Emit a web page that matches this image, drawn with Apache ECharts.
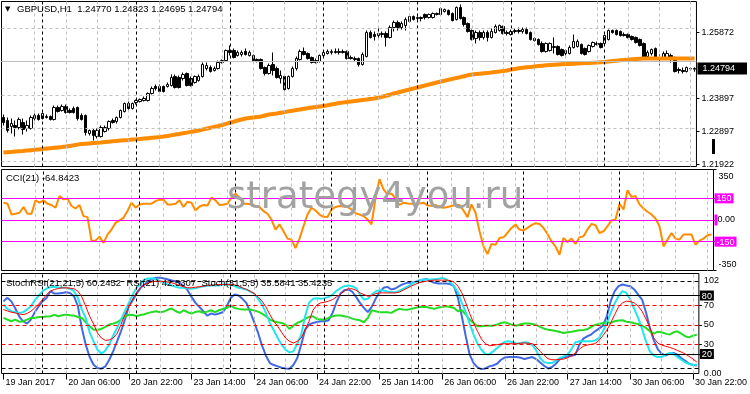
<!DOCTYPE html>
<html><head><meta charset="utf-8">
<script src="https://cdn.jsdelivr.net/npm/echarts@6/dist/echarts.min.js"></script>
<style>html,body{margin:0;padding:0;background:#fff}#c{width:750px;height:394px}</style>
</head><body><div id="c"></div>
<script>
// ---------- DATA ----------
const sessions = [['19 Jan',14,23],['20 Jan',0,23],['23 Jan',0,23],['24 Jan',0,23],['25 Jan',0,23],['26 Jan',0,23],['27 Jan',0,23],['30 Jan',0,23]];
const categories = [];
sessions.forEach(s => { for (let h = s[1]; h <= s[2]; h++) categories.push(s[0] + ' ' + String(h).padStart(2,'0') + ':00'); });

const tickLabels = ['19 Jan 2017','20 Jan 06:00','20 Jan 22:00','23 Jan 14:00','24 Jan 06:00','24 Jan 22:00','25 Jan 14:00','26 Jan 06:00','26 Jan 22:00','27 Jan 14:00','30 Jan 06:00','30 Jan 22:00'];

const titleSymbol = 'GBPUSD,H1';
const titleValues = ['1.24770','1.24823','1.24695','1.24794'];
const cciTitle = 'CCI(21) -64.8423';
const stochTitle = 'StochRSI(21,21,5) 60.2452  RSI(21) 42.5307  Stoch(31,5,5) 35.5841 35.4235';

const priceGridValues = [1.25872, 1.24885, 1.23897, 1.22897, 1.21922];
const priceTickValues = [1.25872, 1.23897, 1.22897, 1.21922];
const priceTickText = ['1.25872','1.23897','1.22897','1.21922'];

const cciLevels = [150, 0, -150];
const cciAxisValues = [350, 150, 0, -150, -350];
const cciAxisText = ['350','150','0.00','-150','-350'];

const stochLevels = [95, 80, 70, 50, 30, 20, 5];
const stochAxisValues = [102.6, 95, 80, 70, 50, 30, 20, 5, 0];
const stochAxisText = ['102','95','80','70','50','30','20','5','0.00'];

const open = [
1.23322,1.23232,1.23052,1.23082,1.23022,1.23172,1.22992,1.22992,1.23292,1.23382,
1.23292,1.23322,1.23352,1.23262,1.23622,1.23532,1.23652,1.23532,1.23592,1.23622,
1.23382,1.23382,1.22842,1.22932,1.22752,1.22752,1.22902,1.22992,1.23232,1.23202,
1.23322,1.23502,1.23742,1.23592,1.23772,1.23802,1.23832,1.23832,1.24042,1.24252,
1.24252,1.24252,1.24252,1.24282,1.24552,1.24522,1.24492,1.24642,1.24492,1.24372,
1.24432,1.24552,1.24792,1.24822,1.24732,1.24792,1.24972,1.25032,1.25332,1.25332,
1.25182,1.25212,1.25302,1.25182,1.25182,1.25062,1.25062,1.24822,1.24642,1.24912,
1.24792,1.24492,1.24552,1.24192,1.24552,1.24792,1.25062,1.25302,1.25242,1.25122,
1.25032,1.25002,1.25182,1.25242,1.25272,1.25302,1.25272,1.25302,1.25302,1.25122,
1.25092,1.25092,1.24912,1.25152,1.25872,1.25812,1.25782,1.25812,1.25842,1.25722,
1.26022,1.26172,1.26022,1.26082,1.26202,1.26352,1.26292,1.26322,1.26412,1.26322,
1.26322,1.26412,1.26412,1.26502,1.26532,1.26442,1.26262,1.26622,1.26322,1.26142,
1.25932,1.25692,1.25872,1.25722,1.25872,1.25722,1.25872,1.25932,1.26052,1.25872,
1.25812,1.25902,1.25932,1.25902,1.25962,1.25872,1.25692,1.25662,1.25542,1.25302,
1.25332,1.25422,1.25452,1.25362,1.25242,1.25242,1.25422,1.25452,1.25512,1.25392,
1.25302,1.25452,1.25542,1.25542,1.25542,1.25662,1.25932,1.25932,1.25902,1.25812,
1.25812,1.25752,1.25722,1.25662,1.25542,1.25152,1.25242,1.25392,1.25122,1.25122,
1.25122,1.25182,1.25122,1.24762,1.24732,1.24702,1.24780,1.24770
];
const close = [
1.23172,1.22932,1.23142,1.23022,1.23262,1.22962,1.23082,1.23322,1.23382,1.23262,
1.23442,1.23352,1.23262,1.23622,1.23502,1.23652,1.23472,1.23472,1.23472,1.23292,
1.23262,1.22872,1.22932,1.22782,1.22932,1.23022,1.23022,1.23202,1.23172,1.23322,
1.23532,1.23742,1.23592,1.23742,1.23832,1.23862,1.23892,1.24042,1.24192,1.24192,
1.24102,1.24102,1.24312,1.24522,1.24222,1.24222,1.24612,1.24282,1.24282,1.24552,
1.24552,1.24912,1.24882,1.24702,1.24792,1.24972,1.25032,1.25332,1.25272,1.25122,
1.25272,1.25272,1.25212,1.25272,1.25032,1.25002,1.24792,1.24642,1.24882,1.24732,
1.24522,1.24582,1.24162,1.24552,1.24792,1.25092,1.25302,1.25212,1.25092,1.24972,
1.24972,1.25182,1.25272,1.25302,1.25302,1.25272,1.25302,1.25272,1.25092,1.25092,
1.25062,1.24912,1.25212,1.25872,1.25722,1.25752,1.25842,1.25842,1.25722,1.26022,
1.26172,1.26022,1.26142,1.26262,1.26352,1.26262,1.26322,1.26292,1.26322,1.26412,
1.26442,1.26442,1.26592,1.26562,1.26412,1.26232,1.26622,1.26292,1.26112,1.25902,
1.25662,1.25872,1.25722,1.25872,1.25722,1.25902,1.26052,1.26082,1.25842,1.25842,
1.25902,1.25932,1.25902,1.25962,1.25842,1.25662,1.25632,1.25512,1.25302,1.25542,
1.25542,1.25452,1.25212,1.25182,1.25332,1.25422,1.25602,1.25602,1.25242,1.25212,
1.25482,1.25572,1.25512,1.25422,1.25782,1.25932,1.25872,1.25812,1.25782,1.25782,
1.25722,1.25662,1.25572,1.25482,1.25122,1.25272,1.25362,1.25122,1.25092,1.25242,
1.25242,1.25092,1.24702,1.24732,1.24702,1.24822,1.24792,1.24794
];
const low = [
1.23082,1.22872,1.22842,1.22752,1.22962,1.22812,1.22902,1.22962,1.23232,1.23232,
1.23262,1.23292,1.23232,1.23232,1.23472,1.23502,1.23442,1.23442,1.23442,1.23232,
1.23232,1.22782,1.22782,1.22632,1.22692,1.22722,1.22872,1.22932,1.23142,1.23142,
1.23292,1.23472,1.23532,1.23562,1.23712,1.23772,1.23802,1.23802,1.24012,1.24132,
1.24072,1.24072,1.24222,1.24252,1.24192,1.24192,1.24432,1.24252,1.24252,1.24342,
1.24402,1.24522,1.24732,1.24672,1.24702,1.24762,1.24942,1.25002,1.25182,1.25092,
1.25152,1.25152,1.25182,1.25152,1.25002,1.24972,1.24762,1.24582,1.24612,1.24582,
1.24492,1.24342,1.24132,1.24162,1.24522,1.24732,1.25032,1.25182,1.25062,1.24942,
1.24942,1.24972,1.25152,1.25212,1.25212,1.25242,1.25212,1.25242,1.25062,1.25062,
1.25002,1.24852,1.24882,1.25122,1.25692,1.25632,1.25692,1.25722,1.25452,1.25692,
1.25902,1.25932,1.25962,1.25932,1.26172,1.26232,1.26232,1.26202,1.26262,1.26292,
1.26292,1.26382,1.26382,1.26472,1.26382,1.26202,1.26232,1.26262,1.26052,1.25872,
1.25632,1.25542,1.25632,1.25662,1.25602,1.25692,1.25842,1.25902,1.25812,1.25782,
1.25782,1.25842,1.25842,1.25842,1.25812,1.25632,1.25602,1.25482,1.25272,1.25272,
1.25302,1.25242,1.25182,1.25152,1.25182,1.25212,1.25392,1.25422,1.25212,1.25182,
1.25272,1.25422,1.25482,1.25392,1.25512,1.25632,1.25842,1.25782,1.25752,1.25752,
1.25692,1.25632,1.25542,1.25452,1.25092,1.25122,1.25182,1.25092,1.24882,1.25092,
1.25092,1.24972,1.24672,1.24642,1.24642,1.24672,1.24732,1.24695
];
const high = [
1.23412,1.23322,1.23292,1.23232,1.23322,1.23292,1.23232,1.23382,1.23442,1.23442,
1.23472,1.23412,1.23382,1.23682,1.23682,1.23712,1.23712,1.23592,1.23652,1.23652,
1.23442,1.23412,1.22962,1.22992,1.22992,1.23082,1.23082,1.23232,1.23292,1.23352,
1.23562,1.23772,1.23802,1.23772,1.23862,1.23892,1.23952,1.24072,1.24252,1.24312,
1.24312,1.24282,1.24372,1.24612,1.24612,1.24582,1.24672,1.24672,1.24552,1.24582,
1.24612,1.24972,1.24972,1.24882,1.24852,1.25032,1.25062,1.25362,1.25482,1.25392,
1.25332,1.25332,1.25392,1.25332,1.25212,1.25092,1.25092,1.24852,1.24942,1.25272,
1.24852,1.24732,1.24582,1.24582,1.24852,1.25152,1.25362,1.25422,1.25272,1.25152,
1.25092,1.25212,1.25332,1.25362,1.25362,1.25392,1.25392,1.25362,1.25332,1.25182,
1.25152,1.25122,1.25272,1.25932,1.25932,1.25902,1.26052,1.25902,1.25902,1.26082,
1.26232,1.26232,1.26202,1.26322,1.26382,1.26382,1.26352,1.26352,1.26442,1.26442,
1.26472,1.26472,1.26622,1.26592,1.26562,1.26472,1.26652,1.26712,1.26352,1.26172,
1.25962,1.25932,1.25932,1.25932,1.25932,1.25992,1.26112,1.26112,1.26082,1.25932,
1.25962,1.25992,1.26022,1.26022,1.26022,1.25902,1.25722,1.25692,1.25602,1.25572,
1.25572,1.25722,1.25482,1.25392,1.25362,1.25482,1.25812,1.25662,1.25542,1.25422,
1.25512,1.25602,1.25602,1.25572,1.25812,1.25962,1.25962,1.25962,1.25932,1.25872,
1.25842,1.25782,1.25752,1.25692,1.25572,1.25332,1.25392,1.25422,1.25212,1.25302,
1.25332,1.25242,1.25152,1.24822,1.24822,1.24852,1.24822,1.24823
];
const ma = [
1.22272,1.22281,1.22290,1.22299,1.22308,1.22317,1.22329,1.22341,1.22353,1.22365,
1.22377,1.22389,1.22401,1.22413,1.22425,1.22437,1.22452,1.22470,1.22488,1.22509,
1.22527,1.22536,1.22545,1.22554,1.22563,1.22572,1.22584,1.22596,1.22608,1.22620,
1.22632,1.22641,1.22650,1.22662,1.22668,1.22677,1.22689,1.22701,1.22713,1.22725,
1.22737,1.22752,1.22770,1.22788,1.22809,1.22827,1.22848,1.22869,1.22890,1.22911,
1.22932,1.22959,1.22986,1.23013,1.23040,1.23067,1.23097,1.23130,1.23163,1.23196,
1.23232,1.23262,1.23292,1.23307,1.23322,1.23337,1.23352,1.23382,1.23412,1.23427,
1.23442,1.23463,1.23484,1.23505,1.23526,1.23544,1.23562,1.23583,1.23604,1.23622,
1.23637,1.23652,1.23667,1.23688,1.23712,1.23733,1.23757,1.23772,1.23787,1.23802,
1.23817,1.23832,1.23847,1.23862,1.23880,1.23892,1.23913,1.23943,1.23973,1.24006,
1.24042,1.24072,1.24102,1.24132,1.24162,1.24192,1.24222,1.24252,1.24282,1.24312,
1.24342,1.24372,1.24402,1.24426,1.24453,1.24480,1.24507,1.24534,1.24561,1.24588,
1.24612,1.24624,1.24636,1.24648,1.24660,1.24672,1.24687,1.24702,1.24717,1.24732,
1.24762,1.24780,1.24798,1.24816,1.24828,1.24840,1.24852,1.24864,1.24876,1.24888,
1.24897,1.24906,1.24912,1.24918,1.24924,1.24930,1.24936,1.24942,1.24948,1.24954,
1.24960,1.24966,1.24972,1.24981,1.24990,1.25002,1.25014,1.25026,1.25038,1.25050,
1.25062,1.25071,1.25080,1.25086,1.25092,1.25092,1.25092,1.25092,1.25092,1.25092,
1.25092,1.25092,1.25092,1.25092,1.25092,1.25092,1.25092,1.25092
];
const cci = [
120,113,38,43,50,90,43,43,136,120,
136,113,104,85,166,143,148,97,80,104,
27,20,-143,-143,-115,-159,-101,-66,-20,-3,
15,62,120,85,108,113,113,113,131,141,
141,108,108,113,136,90,127,120,66,94,
104,101,155,136,104,108,113,155,183,155,
113,113,108,97,90,62,43,3,-66,-31,
-78,-129,-136,-194,-129,-43,38,85,66,38,
22,20,73,90,97,94,90,73,48,38,
27,3,-31,150,283,213,178,183,150,104,
120,115,113,113,115,120,101,99,104,90,
85,90,97,104,104,66,20,108,50,-78,
-183,-236,-166,-171,-124,-120,-90,-55,-31,-66,
-73,-55,-36,-22,-27,-55,-97,-148,-183,-241,
-124,-152,-129,-166,-120,-113,-66,-27,-36,-90,
-78,-43,-3,3,113,73,206,159,166,108,
80,57,38,10,-43,-183,-136,-90,-129,-136,
-101,-101,-101,-171,-143,-129,-106,-101
];
const stochRsi = [
74,77.6,74,67,58.7,53.6,51.2,55.3,62.9,69,
74.2,77.6,84.5,82,82,82.7,83.4,82.7,79.3,69,
46.7,29.6,16.9,9,5.6,4.9,7.3,14.1,22.7,33,
43.3,55.3,69,75.2,82,87.9,91.3,94.7,97.1,98.2,
98.2,97.5,96.5,95.4,94.4,93,89.6,85.5,78.6,72.5,
68.3,63.9,59.4,61.5,60.4,61.5,62.9,69,77.6,81,
80,76.6,72.5,62.9,52.6,41.6,28.5,18.3,10.7,8.7,
7.3,5.9,5.2,4.9,8.7,15.9,29.6,45,50.2,51.9,
52.9,53.6,53.6,54.6,62.2,73.1,82,85.5,86.2,84.1,
78.6,72.5,67.3,62.9,68.3,76.6,83.4,87.9,88.9,86.2,
87.2,89.6,91.7,93,93,93.7,95.1,96.1,97.1,94.7,
93,92.3,92.3,92.3,91.7,89.6,77.6,58.7,38.2,19.3,
10.7,6.3,4.5,5.2,7.3,8.3,10,14.1,16.5,16.9,
16.9,16.9,16.2,14.8,15.9,16.9,14.8,11.4,8,5.2,
6.6,10,14.8,16.5,17.6,18.3,19.3,29.6,35.8,38.2,
39.9,43.3,46,49.1,58.7,74.2,84.5,89.6,91.3,90.3,
89.6,86.2,81,75.9,62.9,46.7,34,25.1,20.3,18.3,
20.3,21,19.3,15.9,13.1,10,8.7,8.3
];
const stochMain = [
70.7,66.3,63.9,62.9,62.2,62.9,65.6,69,75.2,80,
84.5,87.2,88.6,88.9,88.2,87.9,87.9,86.9,84.5,77.6,
65.6,57,42.3,33,24.4,20.3,23.7,29.6,38.8,46.7,
55.3,63.9,72.5,81,87.9,92.3,96.5,97.5,97.8,96.5,
94.7,93,91.3,90.3,88.9,87.9,87.9,87.5,86.9,87.5,
88.6,89.6,89.9,90.3,90.3,90.3,91.3,91.3,91.3,89.6,
87.9,87.2,86.2,84.1,82,76.6,70.7,62.2,51.9,44.3,
36.4,29.6,24.4,21.7,22.7,30.6,39.9,58.7,72.5,76.6,
77.3,76.6,77.3,78.6,81,84.8,87.5,89.6,90.3,89.6,
87.5,81,75.9,76.6,81,84.1,85.5,85.1,84.1,83.4,
83.4,84.8,86.9,88.9,91.3,93.7,95.1,96.1,96.5,96.5,
96.8,97.1,98.2,96.5,93.7,89.6,83.4,72.5,62.9,51.2,
39.9,30.6,24.4,20,19.6,22.7,26.1,29.6,32.7,33,
32,30.6,31.3,32,31.3,29.2,23.7,15.9,11.7,10.7,
10.7,13.1,15.9,17.6,19.3,25.1,32,33,33,33,
33,34,36.4,43.3,51.9,62.2,71.8,79.3,84.5,82.7,
75.9,66.3,57,45.7,33,22.7,18.3,16.9,16.9,19.3,
21,20.3,16.9,14.1,11.4,9.7,9,9
];
const stochSignal = [
65.6,64.2,62.9,62.2,61.1,60.4,61.5,63.9,67.3,71.4,
75.9,81,84.5,86.2,87.2,87.9,87.9,87.5,86.9,84.5,
78.6,69,58.7,50.8,41.6,36.4,34,34.4,36.4,40.9,
50.2,60.4,68.3,76.6,83.4,87.9,91.3,93,94,94.7,
94.7,94.4,93.7,93,91.7,90.3,88.9,87.9,87.9,88.6,
88.9,89.6,90.3,90.6,91,91.3,91.3,91.3,91.3,91,
89.6,87.9,86.2,84.5,82,78.6,74.2,68.3,60.4,53.6,
48.4,42.3,36.4,33,31.3,33,36.4,45,53.6,64.9,
70.4,72.5,73.1,74.2,75.9,78.6,81.4,84.5,86.9,86.9,
85.5,82.7,81,79.3,80,82,82.7,82.7,82.7,82.7,
82.7,83.4,85.5,87.5,89.6,91.3,93,94,94.7,95.4,
95.8,95.8,95.8,95.8,95.4,93.7,89.6,82.7,72.5,61.5,
51.9,43.3,35.4,30.6,28.5,28.9,29.6,30.3,30.6,30.6,
30.6,30.6,31,31.3,31,30.6,27.2,22.7,18.6,15.2,
14.1,14.1,14.5,14.8,16.2,18.3,21,25.1,27.9,29.2,
29.9,30.6,34,38.8,44.3,51.9,60.4,68.3,72.5,74.2,
73.8,72.5,69,63.9,56,46.7,36.4,31.3,29.2,27.9,
26.8,25.5,23.7,22,20,17.6,14.8,11.7
];
const rsi = [
57,55.3,53.6,55.3,53.2,53.6,55.3,57,57,58,
58,58.4,58.7,60.1,58.7,59.8,60.4,59.8,59.4,58,
57,52.6,48.4,45,45,45.7,47.8,50.2,51.2,52.6,
55.3,58,60.4,60.1,58.7,60.1,60.8,62.2,63.2,63.9,
62.9,63.5,65.6,66.6,63.9,62.2,64.9,62.9,61.5,63.2,
63.9,62.2,63.5,64.9,62.9,64.9,66.3,67.3,69.7,67.3,
66.3,65.6,65.6,65.6,64.6,63.5,61.5,58.7,55.3,53.6,
52.6,51.9,50.2,45.7,49.1,51.9,53.6,56,58,58.7,
56,55.3,55.3,57,58.7,59.4,59.4,58.7,58,56.3,
55.3,54.6,52.6,57,64.9,63.9,62.9,62.9,62.9,62.2,
64.6,66.3,65.6,65.3,66.3,67.3,68.3,68.3,68.3,67.3,
66.3,67.7,68.3,69,68.3,67.3,63.9,64.9,60.4,55.3,
51.9,48.4,48.4,49.1,49.1,49.1,50.2,51.9,52.6,51.2,
49.8,49.1,50.5,51.2,51.2,50.8,49.8,47.8,46,45,
44.3,43.6,42.6,41.6,42.3,42.9,43.6,44.3,44.6,45.3,
47.8,49.8,50.8,51.9,52.6,51.9,53.6,54.3,54.6,53.2,
52.6,51.5,50.8,49.1,46.7,43.3,40.9,42.9,42.3,40.9,
39.9,42.3,43.3,40.9,38.2,37.1,38.8,39.9
];

// ---------- CHART ----------
const FONT = "'Liberation Sans', Arial, sans-serif";
const chart = echarts.init(document.getElementById('c'), null, {renderer: 'canvas', width: 750, height: 394});
const candles = open.map((o, i) => [o, close[i], low[i], high[i]]);
const currentPrice = close[close.length - 1];
const near = (a, b) => Math.abs(a - b) < 1e-7;

const vLines = [];
categories.forEach((c, i) => {
  if (i > 0 && i % 8 === 0) vLines.push({xAxis: c, lineStyle: {color: '#c0c0c0', type: [3, 3], width: 1}});
  if (i > 0 && c.slice(-5) === '00:00') vLines.push({xAxis: c, lineStyle: {color: '#000', type: [3, 3], width: 1}});
});
const mk = data => ({silent: true, symbol: ['none', 'none'], label: {show: false}, emphasis: {disabled: true}, animation: false, data});

const base = {fontSize: 9, fontFamily: FONT, color: '#000'};
const rich = {
  p: Object.assign({}, base, {padding: [0, 0, 0, 4]}),
  top: Object.assign({}, base, {padding: [14, 0, 0, 4]}),
  bot: Object.assign({}, base, {padding: [0, 0, 12, 4]}),
  box: Object.assign({}, base, {color: '#fff', backgroundColor: '#000', padding: [1, 2, 0, 2]}),
  mag: Object.assign({}, base, {color: '#fff', backgroundColor: '#ff00ff', padding: [1, 2, 0, 2]}),
  mz: {width: 3, height: 11, backgroundColor: '#ff00ff'},
  z: Object.assign({}, base, {padding: [0, 0, 0, 0]}),
  cur: Object.assign({}, base, {color: '#fff', backgroundColor: '#000', padding: [2, 12, 1, 5]})
};

const grids = [
  {left: 1.5, top: 1.5, width: 712, height: 165},
  {left: 1.5, top: 169.5, width: 712, height: 101},
  {left: 1.5, top: 273.5, width: 712, height: 100}
].map(g => Object.assign(g, {show: true, borderColor: '#000', borderWidth: 1, backgroundColor: '#fff'}));

const xAxes = [0, 1, 2].map(k => ({
  type: 'category', gridIndex: k, data: categories, boundaryGap: true,
  axisLine: {show: false}, splitLine: {show: false}, axisTick: {show: false}, axisLabel: {show: false}
}));
xAxes[2].axisTick = {show: true, interval: i => i % 16 === 0, alignWithLabel: true, length: 6, lineStyle: {color: '#000'}};
xAxes[2].axisLabel = {show: true, interval: i => i % 16 === 0, formatter: (v, i) => tickLabels[Math.round(i / 16)],
  align: 'left', margin: 5, fontSize: 9, fontFamily: FONT, color: '#000', padding: [0, 0, 0, 2]};

const yCommon = {type: 'value', position: 'right', splitLine: {show: false}, axisLine: {show: false}};
const yAxes = [
  Object.assign({}, yCommon, {gridIndex: 0, min: 1.21852, max: 1.26802,
    axisTick: {show: true, customValues: priceTickValues, length: 3, lineStyle: {color: '#000'}},
    axisLabel: {customValues: priceTickValues.concat([currentPrice]), margin: 1, rich, showMinLabel: true, showMaxLabel: true,
      formatter: v => {
        if (near(v, currentPrice)) return '{cur|' + currentPrice.toFixed(5) + '}';
        const k = priceTickValues.findIndex(t => near(t, v));
        return '{p|' + priceTickText[k] + '}';
      }}}),
  Object.assign({}, yCommon, {gridIndex: 1, min: -350, max: 350,
    axisTick: {show: true, customValues: cciAxisValues, length: 3, lineStyle: {color: '#000'}},
    axisLabel: {customValues: cciAxisValues, margin: 1, rich, showMinLabel: true, showMaxLabel: true,
      formatter: v => {
        const k = cciAxisValues.findIndex(t => near(t, v)); const t = cciAxisText[k];
        if (k === 0) return '{top|' + t + '}';
        if (k === cciAxisValues.length - 1) return '{bot|' + t + '}';
        if (v === 0) return '{mz|}{z|' + t + '}';
        return '{mag|' + t + '}';
      }}}),
  Object.assign({}, yCommon, {gridIndex: 2, min: 0, max: 102.6,
    axisTick: {show: true, customValues: stochLevels, length: 3, lineStyle: {color: '#000'}},
    axisLabel: {customValues: stochAxisValues, margin: 1, rich, showMinLabel: true, showMaxLabel: true,
      formatter: v => {
        const k = stochAxisValues.findIndex(t => near(t, v)); const t = stochAxisText[k];
        if (k === 0) return '{top|' + t + '}';
        if (v === 80 || v === 20) return '{box|' + t + '}';
        return '{p|' + t + '}';
      }}})
];

const hGrid = priceGridValues.map(v => ({yAxis: v, lineStyle: {color: '#c0c0c0', type: [3, 3], width: 1}}));
const curLine = [{yAxis: currentPrice, lineStyle: {color: '#c0c0c0', type: 'solid', width: 1}}];
const cciLines = cciLevels.map(v => ({yAxis: v, lineStyle: {color: '#ff00ff', type: 'solid', width: 1}}));
const stochLines = stochLevels.map(v => ({yAxis: v, lineStyle: {
  color: (v === 95 || v === 5 || v === 80 || v === 20) ? '#000' : '#ff0000',
  type: (v === 80 || v === 20) ? 'solid' : [4, 3], width: 1}}));

const lineS = (name, data, xi, color, width, z) => ({name, type: 'line', xAxisIndex: xi, yAxisIndex: xi, data,
  showSymbol: false, symbol: 'none', silent: true, z, lineStyle: {color, width}, animation: false});

const option = {
  animation: false,
  backgroundColor: '#fff',
  textStyle: {fontFamily: FONT},
  grid: grids, xAxis: xAxes, yAxis: yAxes,
  series: [
    {type: 'line', xAxisIndex: 0, yAxisIndex: 0, data: [], z: 1, silent: true, markLine: mk(vLines.concat(hGrid, curLine))},
    {name: 'GBPUSD', type: 'candlestick', xAxisIndex: 0, yAxisIndex: 0, data: candles, barWidth: 3, z: 3, silent: true,
      itemStyle: {color: '#fff', color0: '#000', borderColor: '#000', borderColor0: '#000', borderWidth: 1}},
    lineS('MA', ma, 0, '#ff8c00', 4, 4),
    {type: 'line', xAxisIndex: 1, yAxisIndex: 1, data: [], z: 1, silent: true, markLine: mk(vLines.concat(cciLines))},
    lineS('CCI(21)', cci, 1, '#ff8c00', 2, 3),
    {type: 'line', xAxisIndex: 2, yAxisIndex: 2, data: [], z: 1, silent: true, markLine: mk(vLines.concat(stochLines))},
    lineS('StochRSI', stochRsi, 2, '#4169e1', 2, 3),
    lineS('RSI', rsi, 2, '#22dd22', 2, 3),
    lineS('Stoch main', stochMain, 2, '#22e5ee', 2, 4),
    lineS('Stoch signal', stochSignal, 2, '#ff0000', 1, 5)
  ],
  graphic: [
    {type: 'text', x: 5, y: 9.5, z: 50, style: {text: '\u25BC', fontSize: 7, fontFamily: 'DejaVu Sans', fill: '#000', verticalAlign: 'middle'}},
    {type: 'text', x: 17, y: 9.5, z: 50, style: {text: titleSymbol + '  ' + titleValues.join(' '), fontSize: 9.5, fontFamily: FONT, fill: '#000', verticalAlign: 'middle'}},
    {type: 'text', x: 6, y: 178.5, z: 50, style: {text: cciTitle, fontSize: 9.5, fontFamily: FONT, fill: '#000', verticalAlign: 'middle'}},
    {type: 'text', x: 6, y: 283, z: 50, style: {text: stochTitle, fontSize: 9.5, fontFamily: FONT, fill: '#000', verticalAlign: 'middle'}},
    {type: 'rect', z: 50, shape: {x: 712, y: 139, width: 3, height: 15}, style: {fill: '#000'}},
    {type: 'text', x: 227, y: 198, z: 100, style: {text: 'strategy4you.ru', fontSize: 37, fontFamily: 'DejaVu Sans', fill: '#a2a2a2',
      verticalAlign: 'middle', shadowBlur: 6, shadowColor: 'rgba(0,0,0,0.75)', shadowOffsetX: 3, shadowOffsetY: 3}}
  ]
};
chart.setOption(option);
</script>
</body></html>
